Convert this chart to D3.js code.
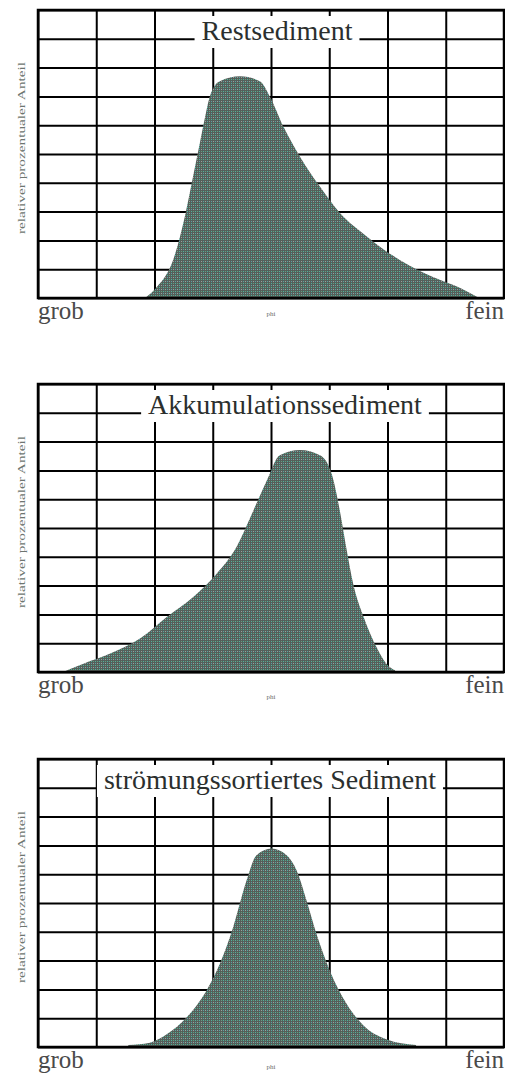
<!DOCTYPE html>
<html>
<head>
<meta charset="utf-8">
<script src="https://cdn.jsdelivr.net/npm/d3@7"></script>
<style>
  body { margin: 0; background: #fff; }
  svg { display: block; }
  .grid line { stroke: #000; stroke-width: 2; }
  .grid path { display: none; }
</style>
</head>
<body>
<svg width="505" height="1073"></svg>
<script>
// ---- data (grid units: x 0..8 columns, y 0..10 rows) ----
const titles = ['Restsediment', 'Akkumulationssediment', 'strömungssortiertes Sediment'];
const xLabelLeft = 'grob';
const xLabelRight = 'fein';
const xLabelMid = 'phi';
const yLabel = 'relativer prozentualer Anteil';

const restX = [1.84, 2.04, 2.32, 2.52, 2.66, 2.78, 2.87, 2.95, 3.12, 3.47, 3.81, 3.98, 4.21, 4.5, 4.84, 5.18, 5.65, 6.21, 6.78, 7.25, 7.55];
const restY = [0, 0.38, 1.32, 2.82, 4.2, 5.4, 6.3, 7.0, 7.53, 7.7, 7.53, 7.0, 5.96, 4.9, 3.87, 2.96, 2.13, 1.32, 0.73, 0.35, 0.03];

const akkuX = [0.43, 0.78, 1.24, 1.75, 2.21, 2.67, 3.07, 3.41, 3.7, 3.93, 4.15, 4.5, 4.84, 5.04, 5.18, 5.3, 5.41, 5.59, 5.81, 5.98, 6.13];
const akkuY = [0, 0.29, 0.64, 1.16, 1.91, 2.61, 3.42, 4.35, 5.62, 6.66, 7.53, 7.71, 7.53, 6.89, 5.62, 4.23, 3.07, 1.91, 0.87, 0.29, 0.06];

const stroX = [1.55, 1.92, 2.21, 2.55, 2.89, 3.12, 3.35, 3.58, 3.75, 4.01, 4.27, 4.44, 4.61, 4.78, 5.01, 5.3, 5.63, 5.98, 6.49];
const stroY = [0.07, 0.15, 0.44, 1.02, 1.95, 2.88, 4.16, 5.78, 6.66, 6.89, 6.66, 6.13, 5.09, 3.93, 2.65, 1.49, 0.67, 0.27, 0.07];

const curvesX = [restX, akkuX, stroX];
const curvesY = [restY, akkuY, stroY];

// ---- layout ----
const svg = d3.select('svg');
const left = 38, panelW = 466, panelH = 288;
const panelTops = [10, 384, 759];
const titleCx = [277, 285, 270];
const phiDy = [18, 27, 22];

const x = d3.scaleLinear().domain([0, 8]).range([0, panelW]);
const y = d3.scaleLinear().domain([0, 10]).range([panelH, 0]);

// dotted fill pattern (gray-green with teal / light dots)
const pat = svg.append('defs').append('pattern')
    .attr('id', 'dots')
    .attr('patternUnits', 'userSpaceOnUse')
    .attr('width', 4).attr('height', 4);
pat.append('rect').attr('width', 4).attr('height', 4).attr('fill', '#555f5a');
pat.append('rect').attr('x', 1).attr('y', 1).attr('width', 1).attr('height', 1).attr('fill', '#4cb39e');
pat.append('rect').attr('x', 3).attr('y', 3).attr('width', 1).attr('height', 1).attr('fill', '#9aa09c');
pat.append('rect').attr('x', 3).attr('y', 1).attr('width', 1).attr('height', 1).attr('fill', '#62a07f');
pat.append('rect').attr('x', 1).attr('y', 3).attr('width', 1).attr('height', 1).attr('fill', '#5aa2a4');

const area = d3.area()
    .x(d => x(d[0]))
    .y0(panelH)
    .y1(d => y(d[1]))
    .curve(d3.curveMonotoneX);

titles.forEach(function (title, i) {
    const g = svg.append('g')
        .attr('transform', `translate(${left}, ${panelTops[i]})`);

    // grid
    g.append('g')
        .attr('class', 'grid')
        .attr('transform', `translate(0, ${panelH})`)
        .call(d3.axisBottom(x).tickValues(d3.range(0, 9)).tickSize(-panelH).tickFormat(''));
    g.append('g')
        .attr('class', 'grid')
        .call(d3.axisLeft(y).tickValues(d3.range(0, 11)).tickSize(-panelW).tickFormat(''));

    // distribution
    const pts = curvesX[i].map((v, k) => [v, curvesY[i][k]]);
    g.append('path')
        .datum(pts)
        .attr('d', area)
        .attr('fill', 'url(#dots)');

    // title with white background
    const box = g.append('rect').attr('fill', '#fff');
    const t = g.append('text')
        .attr('x', titleCx[i] - left)
        .attr('y', 30)
        .attr('text-anchor', 'middle')
        .attr('font-family', 'Liberation Serif, serif')
        .attr('font-size', 28)
        .attr('fill', '#2b2f2e')
        .text(title);
    const tw = t.node().getComputedTextLength();
    box.attr('x', titleCx[i] - left - tw / 2 - 7)
        .attr('y', 6)
        .attr('width', tw + 14)
        .attr('height', 32);

    // border
    g.append('rect')
        .attr('width', panelW)
        .attr('height', panelH)
        .attr('fill', 'none')
        .attr('stroke', '#000')
        .attr('stroke-width', 2.5);

    // axis labels
    g.append('text')
        .attr('x', 0)
        .attr('y', panelH + 21)
        .attr('font-family', 'Liberation Serif, serif')
        .attr('font-size', 25)
        .attr('fill', '#4a4a4a')
        .text(xLabelLeft);
    g.append('text')
        .attr('x', panelW)
        .attr('y', panelH + 21)
        .attr('text-anchor', 'end')
        .attr('font-family', 'Liberation Serif, serif')
        .attr('font-size', 25)
        .attr('fill', '#4a4a4a')
        .text(xLabelRight);
    g.append('text')
        .attr('x', panelW / 2)
        .attr('y', panelH + phiDy[i])
        .attr('text-anchor', 'middle')
        .attr('font-family', 'Liberation Serif, serif')
        .attr('font-size', 7)
        .attr('fill', '#6a6a6a')
        .text(xLabelMid);
    g.append('text')
        .attr('transform', `translate(-13, ${panelH / 2 - 6}) rotate(-90)`)
        .attr('text-anchor', 'middle')
        .attr('font-family', 'Liberation Serif, serif')
        .attr('font-size', 11)
        .attr('textLength', 172)
        .attr('lengthAdjust', 'spacingAndGlyphs')
        .attr('fill', '#6d7570')
        .text(yLabel);
});
</script>
</body>
</html>
